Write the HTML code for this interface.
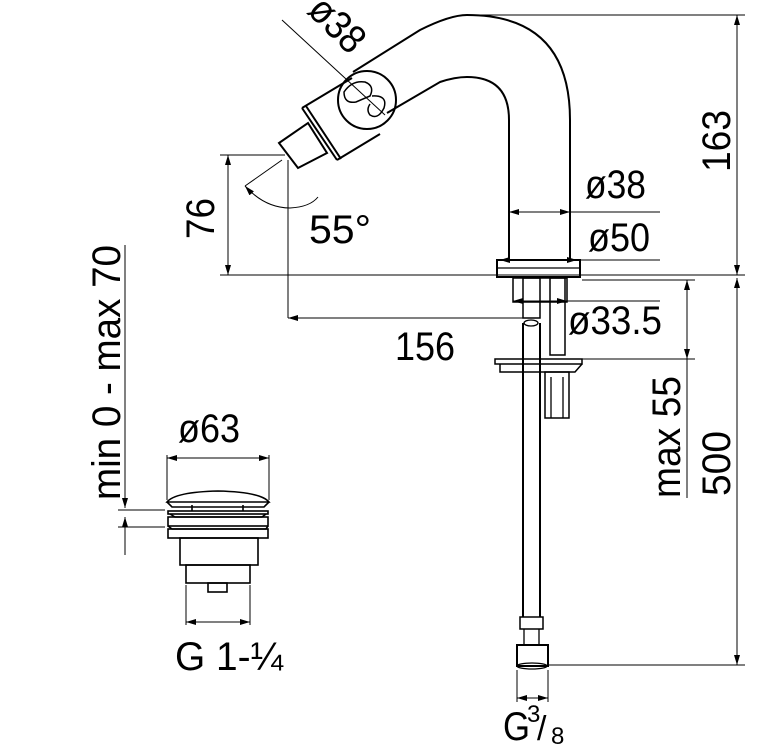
<!DOCTYPE html>
<html><head><meta charset="utf-8"><style>html,body{margin:0;padding:0;background:#fff}svg{display:block}</style></head><body>
<svg width="783" height="752" viewBox="0 0 783 752" xmlns="http://www.w3.org/2000/svg" font-family="Liberation Sans, sans-serif" fill="none" stroke="#000" stroke-width="1.3">
<defs>
<marker id="a" viewBox="0 0 10 6" refX="10" refY="3" markerWidth="10" markerHeight="6" orient="auto-start-reverse" markerUnits="userSpaceOnUse"><path d="M0,0 L10,3 L0,6 z" fill="#000" stroke="none"/></marker>
</defs>
<!-- spout -->
<path d="M353,72 L420,30 Q450,15 467,15 Q570,15 570,120 L570,260" stroke-width="2"/>
<path d="M387,113 L440,82 Q455,77 467,77 Q509,77 509,120 L509,260" stroke-width="2"/>
<circle cx="367" cy="100" r="29" stroke-width="2"/>
<path d="M344,92 Q352,80 365,82 Q375,86 370,96 L356,102 Q344,104 344,92 Z M372,96 Q388,95 384,108 Q378,120 370,115 Q366,110 370,104" stroke-width="1.5"/>
<line x1="282" y1="20" x2="385" y2="115" stroke-width="1"/>
<path d="M302,108 L337,160 M306,106 L341,159 M302,108 L352,78 M337,160 L380,134" stroke-width="2"/>
<path d="M279,143 L308,123 L327,153 L298,168 Z" stroke-width="2"/>
<!-- base -->
<rect x="497" y="260" width="83" height="17" stroke-width="2"/>
<line x1="497" y1="268" x2="580" y2="268"/>
<rect x="513" y="278" width="54" height="24" stroke-width="1.5"/>
<rect x="523" y="278" width="17" height="40" stroke-width="1.5"/>
<rect x="550" y="278" width="15" height="77" stroke-width="1.5"/>
<ellipse cx="531" cy="323" rx="7" ry="3"/>
<path d="M523,323 L523,617 M540,323 L540,617" stroke-width="2"/>
<rect x="495" y="359" width="87" height="5" stroke-width="1.5"/>
<path d="M500,364 L500,372 L575,372 L582,364" stroke-width="1.5"/>
<rect x="545" y="372" width="24" height="46" stroke-width="1.5"/>
<line x1="551" y1="377" x2="551" y2="418"/><line x1="563" y1="377" x2="563" y2="418"/>
<rect x="520" y="617" width="23" height="12" stroke-width="1.5"/>
<path d="M524,629 L524,645 M539,629 L539,645"/>
<rect x="517" y="645" width="31" height="21" stroke-width="2"/>
<ellipse cx="532" cy="666" rx="15" ry="3"/>
<!-- dims right -->
<g stroke-width="1">
<line x1="467" y1="15" x2="745" y2="15"/>
<line x1="737" y1="15" x2="737" y2="275" marker-start="url(#a)" marker-end="url(#a)"/>
<line x1="220" y1="275" x2="745" y2="275"/>
<line x1="737" y1="278" x2="737" y2="665" marker-start="url(#a)" marker-end="url(#a)"/>
<line x1="548" y1="665" x2="745" y2="665"/>
<line x1="582" y1="280" x2="695" y2="280"/>
<line x1="582" y1="359" x2="695" y2="359"/>
<line x1="687" y1="280" x2="687" y2="359" marker-start="url(#a)" marker-end="url(#a)"/>
<line x1="687" y1="359" x2="687" y2="498"/>
<line x1="509" y1="212" x2="570" y2="212" marker-start="url(#a)" marker-end="url(#a)"/>
<line x1="570" y1="212" x2="660" y2="212"/>
<line x1="500" y1="260" x2="577" y2="260" marker-start="url(#a)" marker-end="url(#a)"/>
<line x1="577" y1="260" x2="660" y2="260"/>
<line x1="513" y1="301" x2="567" y2="301" marker-start="url(#a)" marker-end="url(#a)"/>
<line x1="567" y1="301" x2="660" y2="301"/>
<line x1="228" y1="155" x2="228" y2="275" marker-start="url(#a)" marker-end="url(#a)"/>
<line x1="220" y1="155" x2="285" y2="155"/>
<line x1="288" y1="160" x2="288" y2="318"/>
<line x1="288" y1="318" x2="530" y2="318" marker-start="url(#a)"/>
<line x1="282" y1="160" x2="245" y2="186"/>
<path d="M245,186 Q265,208 290,208 Q310,207 318,197" marker-start="url(#a)"/>
<line x1="517" y1="670" x2="517" y2="702"/><line x1="548" y1="670" x2="548" y2="702"/>
<line x1="517" y1="698" x2="548" y2="698" marker-start="url(#a)" marker-end="url(#a)"/>
<!-- left waste -->
<line x1="125" y1="245" x2="125" y2="508" marker-end="url(#a)"/>
<line x1="125" y1="555" x2="125" y2="517" marker-end="url(#a)"/>
<line x1="118" y1="510" x2="165" y2="510"/><line x1="118" y1="527" x2="165" y2="527"/>
<line x1="167" y1="455" x2="167" y2="500"/><line x1="269" y1="455" x2="269" y2="500"/>
<line x1="167" y1="458" x2="269" y2="458" marker-start="url(#a)" marker-end="url(#a)"/>
<line x1="186" y1="585" x2="186" y2="625"/><line x1="250" y1="585" x2="250" y2="625"/>
<line x1="186" y1="622" x2="250" y2="622" marker-start="url(#a)" marker-end="url(#a)"/>
</g>
<g stroke-width="1.6">
<path d="M167,502 Q175,492 218,491 Q261,492 269,502 L167,502 Z"/>
<path d="M167,502 L172,507 L264,507 L269,502"/>
<path d="M192,505 L192,511 M243,505 L243,511"/>
<rect x="168" y="511" width="100" height="3"/>
<path d="M170,514 L175,517 L262,517 L266,514"/>
<rect x="168" y="517" width="100" height="9"/>
<path d="M168,526 L172,529 L266,529 L268,526"/>
<rect x="168" y="529" width="100" height="9"/>
<rect x="180" y="538" width="78" height="27"/>
<rect x="186" y="565" width="64" height="18"/>
<rect x="208" y="583" width="19" height="9"/>
</g>
<!-- text -->
<g fill="#000" stroke="none" font-size="40" lengthAdjust="spacingAndGlyphs">
<text transform="translate(306,12) rotate(45)" textLength="62" lengthAdjust="spacingAndGlyphs">ø38</text>
<text x="585" y="198" textLength="61" lengthAdjust="spacingAndGlyphs">ø38</text>
<text x="588" y="251" textLength="62" lengthAdjust="spacingAndGlyphs">ø50</text>
<text x="568" y="334" textLength="94" lengthAdjust="spacingAndGlyphs">ø33.5</text>
<text x="395" y="360" textLength="60" lengthAdjust="spacingAndGlyphs">156</text>
<text x="309" y="243" textLength="62" lengthAdjust="spacingAndGlyphs">55°</text>
<text transform="translate(214,239) rotate(-90)" textLength="41" lengthAdjust="spacingAndGlyphs">76</text>
<text transform="translate(730,172) rotate(-90)" textLength="62" lengthAdjust="spacingAndGlyphs">163</text>
<text transform="translate(730,496) rotate(-90)" textLength="65" lengthAdjust="spacingAndGlyphs">500</text>
<text transform="translate(680,498) rotate(-90)" textLength="122" lengthAdjust="spacingAndGlyphs">max 55</text>
<text transform="translate(120,500) rotate(-90)" textLength="255" lengthAdjust="spacingAndGlyphs">min 0 - max 70</text>
<text x="178" y="442" textLength="62" lengthAdjust="spacingAndGlyphs">ø63</text>
<text x="175" y="670" textLength="108" lengthAdjust="spacingAndGlyphs">G 1-¼</text>
<text x="503" y="740" textLength="27" lengthAdjust="spacingAndGlyphs">G</text>
<text x="527" y="722" font-size="24">3</text>
<text x="537" y="740" font-size="34">/</text>
<text x="551" y="744" font-size="24">8</text>
</g>
</svg>
</body></html>
